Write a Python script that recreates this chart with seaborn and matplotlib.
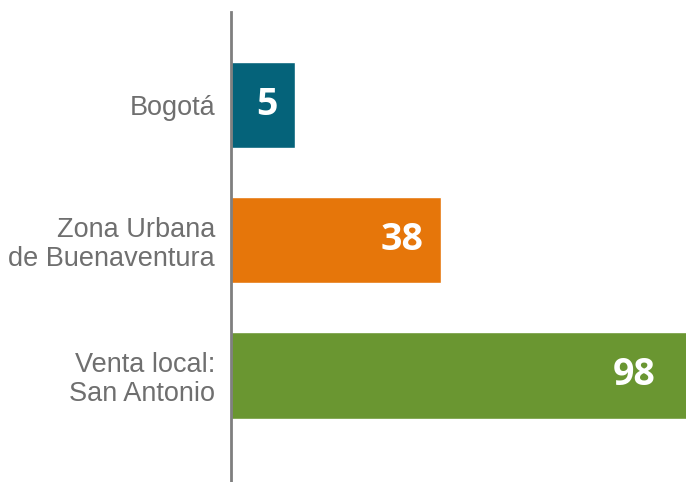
import matplotlib
matplotlib.use("Agg")
import matplotlib.pyplot as plt
import seaborn as sns
import pandas as pd
from matplotlib import font_manager

# Data
categorias = ["Bogotá", "Zona Urbana\nde Buenaventura", "Venta local:\nSan Antonio"]
valores = [5, 38, 98]
colores = ["#05637A", "#E6760A", "#6A9631"]

# Axis baseline (chart axis crosses below zero, as in the source)
BASE = -9.5
XMAX = 93.3

names = {f.name for f in font_manager.fontManager.ttflist}
narrow = "Liberation Sans Narrow" in names
label_font = ["Liberation Sans Narrow"] if narrow else ["Liberation Sans", "DejaVu Sans"]
label_size = 23 if narrow else 19.5

df = pd.DataFrame({"categoria": categorias, "valor": valores})

sns.set_style("white")
fig = plt.figure(figsize=(6.86, 4.82), dpi=100)
ax = fig.add_axes([231 / 686, 0, 1 - 231 / 686, 470 / 482])

sns.barplot(data=df, x="valor", y="categoria", hue="categoria", palette=colores,
            orient="h", width=0.64, legend=False, ax=ax, saturation=1)

# start bars from the axis baseline
for p in ax.patches:
    w = p.get_width()
    p.set_x(BASE)
    p.set_width(w - BASE)

ax.set_xlim(BASE, XMAX)
ax.set_ylim(2.79, -0.69)

# value labels inside bar end
for i, v in enumerate(valores):
    ax.annotate(str(v), xy=(min(v, XMAX), i), xytext=(-18 if v < XMAX else -30, 0),
                textcoords="offset pixels", ha="right", va="center", color="white",
                fontsize=27, fontweight="bold", family=["Open Sans", "DejaVu Sans"])

ax.set_xlabel("")
ax.set_ylabel("")
ax.set_xticks([])
ax.tick_params(axis="y", length=0, pad=11.5)
for lbl in ax.get_yticklabels():
    lbl.set_family(label_font)
    lbl.set_fontsize(label_size)
    lbl.set_color("#6F6F6F")
    lbl.set_linespacing(1.15)

for s in ["top", "right", "bottom"]:
    ax.spines[s].set_visible(False)
ax.spines["left"].set_color("#7F7F7F")
ax.spines["left"].set_linewidth(2)

fig.savefig("out.png", dpi=100)
